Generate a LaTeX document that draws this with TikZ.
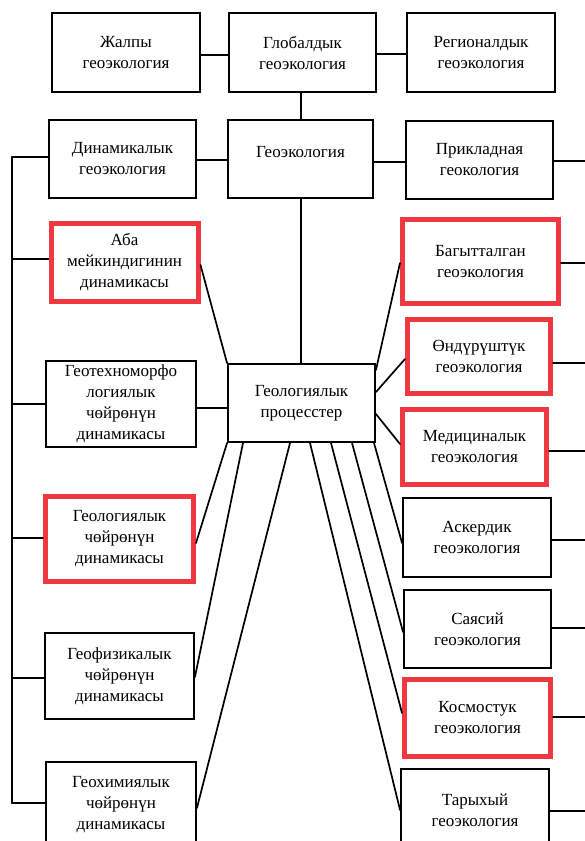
\documentclass[tikz,border=0pt]{standalone}
\usepackage{fontspec}
\setmainfont{Liberation Serif}
\definecolor{hlred}{RGB}{240,56,66}
\tikzset{
  box/.style={draw=black, line width=1.9pt, align=center, inner sep=0pt, fill=white,
    font=\fontsize{17}{21}\selectfont},
  redbox/.style={box, draw=hlred, line width=5pt},
  conn/.style={line width=1.7pt, line cap=round}
}
\begin{document}
\begin{tikzpicture}[x=1pt,y=-1pt]
\useasboundingbox (0,0) rectangle (585,841);
% coordinates for trunks
\coordinate (lt1) at (12,157);
\coordinate (lt6) at (12,803);
% top row
\node[box, minimum width=148pt, minimum height=79pt] (zhal) at (126,52.5) {Жалпы\\геоэкология};
\node[box, minimum width=147pt, minimum height=79pt] (glob) at (302.5,52.5) {Глобалдык\\геоэкология};
\node[box, minimum width=148pt, minimum height=79pt] (reg) at (481,52.5) {Регионалдык\\геоэкология};
% second row
\node[box, minimum width=147pt, minimum height=78pt] (dyn) at (122.5,159) {Динамикалык\\геоэкология};
\node[box, minimum width=145pt, minimum height=78pt] (geo) at (300.5,159) {\raisebox{14pt}{Геоэкология}};
\node[box, minimum width=147pt, minimum height=78pt] (prik) at (479.5,160) {Прикладная\\геокология};
% left column
\node[redbox, minimum width=147pt, minimum height=78pt] (aba) at (124.5,262.5) {Аба\\мейкиндигинин\\динамикасы};
\node[box, minimum width=150pt, minimum height=86pt] (gtm) at (121,404) {Геотехноморфо\\логиялык\\чөйрөнүн\\динамикасы};
\node[redbox, minimum width=148pt, minimum height=85pt] (gl) at (119.5,539) {Геологиялык\\чөйрөнүн\\динамикасы};
\node[box, minimum width=149pt, minimum height=86pt] (gph) at (119.5,676) {Геофизикалык\\чөйрөнүн\\динамикасы};
\node[box, minimum width=150pt, minimum height=86pt] (gch) at (121,805) {Геохимиялык\\чөйрөнүн\\динамикасы};
% center
\node[box, minimum width=147pt, minimum height=78pt] (proc) at (301.5,403) {Геологиялык\\процесстер};
% right column
\node[redbox, minimum width=156pt, minimum height=84pt] (bag) at (480.5,261.5) {Багытталган\\геоэкология};
\node[redbox, minimum width=143pt, minimum height=74pt] (ond) at (479,356.5) {Өндүрүштүк\\геоэкология};
\node[redbox, minimum width=144pt, minimum height=75pt] (med) at (474.5,447) {Медициналык\\геоэкология};
\node[box, minimum width=148pt, minimum height=79pt] (ask) at (477,537.5) {Аскердик\\геоэкология};
\node[box, minimum width=147pt, minimum height=78pt] (say) at (477.5,629) {Саясий\\геоэкология};
\node[redbox, minimum width=146pt, minimum height=77pt] (kos) at (477.5,718) {Космостук\\геоэкология};
\node[box, minimum width=148pt, minimum height=82pt] (tar) at (475,810) {Тарыхый\\геоэкология};
% right free ends
\coordinate (r1) at (585,161);
\coordinate (r2) at (585,263);
\coordinate (r3) at (585,363);
\coordinate (r4) at (585,451);
\coordinate (r5) at (585,540);
\coordinate (r6) at (585,628);
\coordinate (r7) at (585,717);
\coordinate (r8) at (585,811);
% connectors top
\draw[conn] (zhal.east |- 0,55) -- (glob.west |- 0,55);
\draw[conn] (glob.east |- 0,54) -- (reg.west |- 0,54);
\draw[conn] (glob.south -| 301,0) -- (geo.north -| 301,0);
\draw[conn] (dyn.east |- 0,160) -- (geo.west |- 0,160);
\draw[conn] (geo.east |- 0,162) -- (prik.west |- 0,162);
\draw[conn] (geo.south -| 301,0) -- (proc.north -| 301,0);
% left trunk
\draw[conn] (lt1) -- (lt6);
\draw[conn] (lt1) -- (dyn.west |- lt1);
\draw[conn] (12,259) -- (aba.west |- 0,259);
\draw[conn] (12,404) -- (gtm.west |- 0,404);
\draw[conn] (12,538) -- (gl.west |- 0,538);
\draw[conn] (12,678) -- (gph.west |- 0,678);
\draw[conn] (lt6) -- (gch.west |- lt6);
% right branches
\draw[conn] (prik.east |- r1) -- (r1);
\draw[conn] (bag.east |- r2) -- (r2);
\draw[conn] (ond.east |- r3) -- (r3);
\draw[conn] (med.east |- r4) -- (r4);
\draw[conn] (ask.east |- r5) -- (r5);
\draw[conn] (say.east |- r6) -- (r6);
\draw[conn] (kos.east |- r7) -- (r7);
\draw[conn] (tar.east |- r8) -- (r8);
% process connectors
\draw[conn] (aba.east |- 0,265) -- (proc.north west);
\draw[conn] (gtm.east |- 0,408) -- (proc.west |- 0,408);
\draw[conn] (proc.east |- 0,370) -- (bag.west |- 0,263);
\draw[conn] (proc.east |- 0,392) -- (ond.west |- 0,359);
\draw[conn] (proc.east |- 0,414) -- (med.west |- 0,444);
\draw[conn] (proc.south west) -- (gl.east |- 0,543);
\draw[conn] (proc.south -| 243,0) -- (gph.east |- 0,677);
\draw[conn] (proc.south -| 290,0) -- (gch.east |- 0,808);
\draw[conn] (proc.south -| 310,0) -- (tar.west |- 0,810);
\draw[conn] (proc.south -| 331,0) -- (kos.west |- 0,713);
\draw[conn] (proc.south -| 352,0) -- (say.west |- 0,632);
\draw[conn] (proc.south -| 374,0) -- (ask.west |- 0,543);
\end{tikzpicture}
\end{document}
